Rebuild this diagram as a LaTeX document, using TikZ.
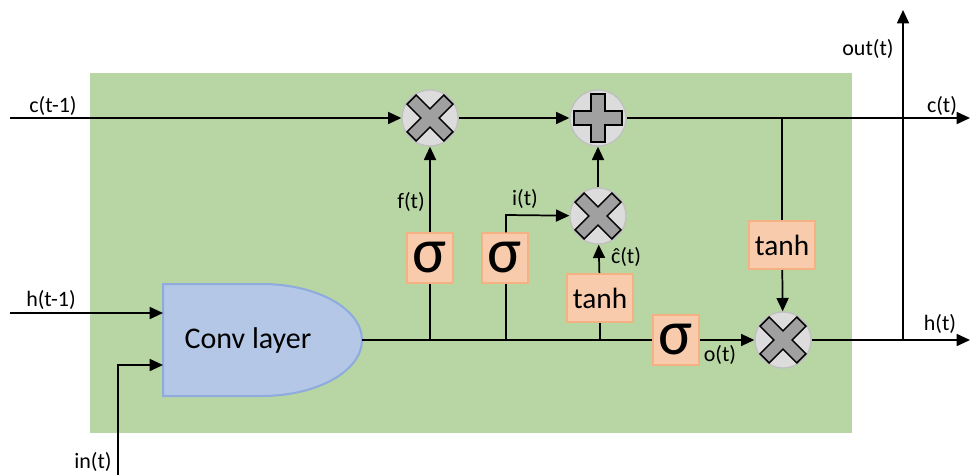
\documentclass[tikz,border=0pt]{standalone}
\usepackage{fontspec}
\setmainfont{Carlito}
\usetikzlibrary{arrows.meta}
\definecolor{bg}{HTML}{B8D6A4}
\definecolor{boxfill}{HTML}{F8CBAD}
\definecolor{boxdraw}{HTML}{F4B183}
\definecolor{opfill}{HTML}{DCDCDC}
\definecolor{opdraw}{HTML}{C0C0C0}
\definecolor{crossfill}{HTML}{A0A0A0}
\definecolor{convfill}{HTML}{B4C7E7}
\definecolor{convdraw}{HTML}{8FAADC}
\tikzset{
  ln/.style={line width=1.3pt},
  arr/.style={line width=1.3pt,-{Triangle[length=10pt,width=9pt]}},
  op/.style={circle,fill=opfill,draw=opdraw,line width=1pt,minimum size=42pt,inner sep=0pt},
  sigbox/.style={rectangle,fill=boxfill,draw=boxdraw,line width=1.5pt,minimum width=35pt,minimum height=37pt,inner sep=0pt,font=\fontsize{48}{48}\selectfont},
  thbox/.style={rectangle,fill=boxfill,draw=boxdraw,line width=1.5pt,minimum width=49pt,minimum height=36pt,inner sep=0pt,font=\fontsize{22}{22}\selectfont},
  lbl/.style={font=\fontsize{16.5}{16.5}\selectfont,inner sep=0pt},
  crossshape/.style={fill=crossfill,draw=black,line width=1.1pt,line join=miter},
  pics/cross/.style={code={
    \path[crossshape] (-6.5,26) -- (6.5,26) -- (6.5,6.5) -- (26,6.5) -- (26,-6.5) -- (6.5,-6.5) -- (6.5,-26) -- (-6.5,-26) -- (-6.5,-6.5) -- (-26,-6.5) -- (-26,6.5) -- (-6.5,6.5) -- cycle;
  }},
  pics/plus/.style={code={
    \path[crossshape] (-7,24) -- (7,24) -- (7,7) -- (24,7) -- (24,-7) -- (7,-7) -- (7,-24) -- (-7,-24) -- (-7,-7) -- (-24,-7) -- (-24,7) -- (-7,7) -- cycle;
  }}
}
\begin{document}
\begin{tikzpicture}[x=0.75pt,y=-0.75pt]
\useasboundingbox (0,0) rectangle (971,475);
\fill[bg] (90,73) rectangle (852,433);

% operators
\node[op] (m1) at (430,118) {};
\node[op] (p1) at (598,118) {};
\node[op] (m2) at (598,216) {};
\node[op] (m3) at (783,340) {};
\pic[rotate=45] at (m1) {cross};
\pic at (p1) {plus};
\pic[rotate=45] at (m2) {cross};
\pic[rotate=45] at (m3) {cross};

% boxes
\node[sigbox] (sf) at (430,258) {σ};
\node[sigbox] (si) at (505,258) {σ};
\node[sigbox] (so) at (676,340) {σ};
\node[thbox] (t1) at (600,298) {tanh};
\node[thbox] (t2) at (782,245) {tanh};

% conv layer
\path[fill=convfill,draw=convdraw,line width=1.5pt] (163,284) -- (262,284) arc[start angle=-90,end angle=90,x radius=100,y radius=56] -- (163,396) -- cycle;
\node[font=\fontsize{22.5}{22.5}\selectfont] (conv) at (248,340) {Conv layer};
\coordinate (cout) at (362,340);

% coordinates
\coordinate (cin) at (10,118);
\coordinate (cend) at (970,118);
\coordinate (hin) at (10,313);
\coordinate (convh) at (163,313);
\coordinate (inb) at (118,475);
\coordinate (convi) at (163,365);
\coordinate (hend) at (970,340);
\coordinate (outtop) at (903,10);
\coordinate (outbase) at (903,340);
\coordinate (cbr) at (782,118);
\coordinate (ibend) at (506,215);

% c path
\draw[arr] (cin) -- (m1);
\draw[arr] (m1) -- (p1);
\draw[arr] (p1) -- (cend);
\draw[arr] (m2) -- (p1);
\draw[ln] (cbr) -- (t2.north);
\draw[arr] (t2) -- (m3);

% inputs
\draw[arr] (hin) -- (convh);
\draw[arr] (inb) |- (convi);

% bottom line
\draw[ln] (cout) -- (so);
\draw[ln] (sf.south |- cout) -- (sf.south);
\draw[ln] (ibend |- cout) -- (ibend |- si.south);
\draw[ln] (t1.south |- cout) -- (t1.south);
\draw[arr] (sf) -- (m1);
\draw[arr] (ibend |- si.north) -- (ibend) -- (m2);
\draw[arr] (t1) -- (m2);
\draw[arr] (so) -- (m3);
\draw[arr] (m3) -- (hend);
\draw[arr] (outbase) -- (outtop);

% labels
\node[lbl] (lc0) at (53,106) {c(t-1)};
\node[lbl] (lh0) at (51,300) {h(t-1)};
\node[lbl] (lin) at (93,462) {in(t)};
\node[lbl] (lf) at (411,202) {f(t)};
\node[lbl] (li) at (525,199) {i(t)};
\node[lbl] (lch) at (626,257) {ĉ(t)};
\node[lbl] (lo) at (720,355) {o(t)};
\node[lbl] (lout) at (868,49) {out(t)};
\node[lbl] (lc) at (942,106) {c(t)};
\node[lbl] (lh) at (940,324) {h(t)};
\end{tikzpicture}
\end{document}
